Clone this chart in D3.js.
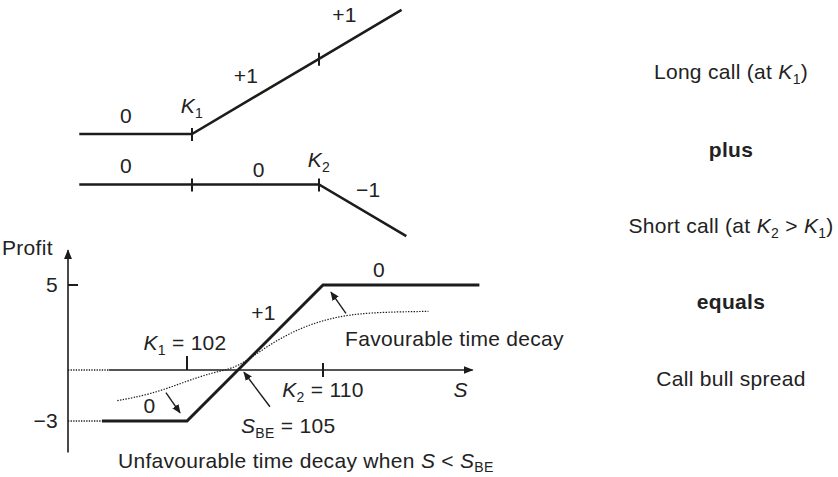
<!DOCTYPE html>
<html><head><meta charset="utf-8">
<script src="https://cdn.jsdelivr.net/npm/d3@7"></script>
<style>
body{margin:0;background:#fff}
svg{display:block}
text{font-family:"Liberation Sans",Arial,Helvetica,sans-serif;fill:#222;letter-spacing:0.3px}
</style>
</head><body>
<svg id="c" width="838" height="477"></svg>
<script>
// ---------- data ----------
const strikeNames = ["K1", "K2"];
const strikes = [102, 110];
const breakEven = 105;
// long call payoff (top diagram)
const longCallS = [94.9, 102, 110, 115.2];
const longCallPayoff = [0, 0, 8, 13.2];
const longSlopeLabels = ["0", "+1", "+1"];
// short call payoff (middle diagram)
const shortCallS = [94.9, 102, 110, 115.5];
const shortCallPayoff = [0, 0, 0, -5.5];
const shortSlopeLabels = ["0", "0", "\u22121"];
// call bull spread profit (bottom chart)
const spreadS = [97, 102, 110, 119.2];
const spreadProfit = [-3, -3, 5, 5];
const spreadSlopeLabels = ["0", "+1", "0"];
const profitTicks = [5, -3];
const profitTickLabels = ["5", "\u22123"];
// profit before expiry (dotted curve)
const decayS = [97.9, 99.8, 101.8, 103.5, 104.95, 106.7, 108.65, 110.6, 112.6, 116.2];
const decayProfit = [-1.8, -1.45, -0.73, -0.13, 0.1, 1.42, 2.49, 3.1, 3.39, 3.45];
// right-hand captions
const captions = ["Long call (at K1)", "plus", "Short call (at K2 > K1)", "equals", "Call bull spread"];

// ---------- setup ----------
const svg = d3.select("#c");
const ink = "#1c1c1c";
const FS = 21, SUBFS = 14;
const defs = svg.append("defs");
defs.append("marker").attr("id", "ah").attr("viewBox", "0 0 10 10")
  .attr("refX", 9).attr("refY", 5).attr("markerWidth", 9).attr("markerHeight", 9)
  .attr("markerUnits", "userSpaceOnUse").attr("orient", "auto")
  .append("path").attr("d", "M0,0.8 L10,5 L0,9.2 Z").attr("fill", ink);
defs.append("marker").attr("id", "ax").attr("viewBox", "0 0 10 10")
  .attr("refX", 9).attr("refY", 5).attr("markerWidth", 10).attr("markerHeight", 10)
  .attr("markerUnits", "userSpaceOnUse").attr("orient", "auto")
  .append("path").attr("d", "M0,1 L10,5 L0,9 Z").attr("fill", ink);

function rich(g, x, y, parts, opts = {}) {
  const t = g.append("text").attr("x", x).attr("y", y)
    .attr("font-size", opts.size || FS)
    .attr("text-anchor", opts.anchor || "start")
    .attr("font-weight", opts.bold ? "bold" : null);
  const sd = opts.subDy || 5;
  let shifted = false;
  parts.forEach(p => {
    const s = t.append("tspan").text(p.t);
    if (p.i) s.attr("font-style", "italic");
    if (p.sub) { s.attr("font-size", SUBFS).attr("dy", sd); shifted = true; }
    else if (shifted) { s.attr("dy", -sd); shifted = false; }
  });
  return t;
}
function parseLabel(str) {
  const parts = [];
  const re = /(K)([12])|(S)_BE|(S)(?=\s|$)/g;
  let last = 0, m;
  while ((m = re.exec(str))) {
    if (m.index > last) parts.push({t: str.slice(last, m.index)});
    if (m[1]) { parts.push({t: "K", i: true}); parts.push({t: m[2], sub: true}); }
    else if (m[3]) { parts.push({t: "S", i: true}); parts.push({t: "BE", sub: true}); }
    else { parts.push({t: "S", i: true}); }
    last = re.lastIndex;
  }
  if (last < str.length) parts.push({t: str.slice(last)});
  return parts;
}

// ---------- top diagrams ----------
const xTop = d3.scaleLinear().domain(strikes).range([192, 319]);
const yLong = d3.scaleLinear().domain([0, 1]).range([134, 124.6]);
const yShort = d3.scaleLinear().domain([0, 1]).range([184.5, 175.1]);
const gTop = svg.append("g");

function payoffLine(S, P, xs, ys) {
  return d3.line().x((d, i) => xs(S[i])).y((d, i) => ys(P[i]))(S);
}
gTop.append("path").attr("d", payoffLine(longCallS, longCallPayoff, xTop, yLong))
  .attr("fill", "none").attr("stroke", ink).attr("stroke-width", 2.6);
gTop.append("path").attr("d", payoffLine(shortCallS, shortCallPayoff, xTop, yShort))
  .attr("fill", "none").attr("stroke", ink).attr("stroke-width", 2.6);

strikes.forEach((k, i) => {
  const pl = longCallPayoff[longCallS.indexOf(k)];
  gTop.append("line").attr("x1", xTop(k)).attr("x2", xTop(k))
    .attr("y1", yLong(pl) - 6).attr("y2", yLong(pl) + 7)
    .attr("stroke", ink).attr("stroke-width", 2);
  const ps = shortCallPayoff[shortCallS.indexOf(k)];
  gTop.append("line").attr("x1", xTop(k)).attr("x2", xTop(k))
    .attr("y1", yShort(ps) - 6).attr("y2", yShort(ps) + 7)
    .attr("stroke", ink).attr("stroke-width", 2);
});
rich(gTop, xTop(strikes[0]), 113, parseLabel(strikeNames[0]), {anchor: "middle"});
rich(gTop, xTop(strikes[1]), 167, parseLabel(strikeNames[1]), {anchor: "middle"});
rich(gTop, xTop(97.84), 123, [{t: longSlopeLabels[0]}], {anchor: "middle"});
rich(gTop, xTop(105.4), 83, [{t: longSlopeLabels[1]}], {anchor: "middle"});
rich(gTop, xTop(111.6), 22, [{t: longSlopeLabels[2]}], {anchor: "middle"});
rich(gTop, xTop(97.84), 173, [{t: shortSlopeLabels[0]}], {anchor: "middle"});
rich(gTop, xTop(106.2), 177, [{t: shortSlopeLabels[1]}], {anchor: "middle"});
rich(gTop, xTop(113.1), 197, [{t: shortSlopeLabels[2]}], {anchor: "middle"});

// ---------- bottom chart ----------
const xB = d3.scaleLinear().domain(strikes).range([187, 323]);
const yB = d3.scaleLinear().domain([-3, 5]).range([421, 285]);
const bot = svg.append("g");
const sAxisMin = 95, sAxisSolid = 97.4, sAxisMax = 118.8;
const pAxisMin = -4.85, pAxisMax = 7.05;

bot.append("line").attr("x1", xB(sAxisMin)).attr("x2", xB(sAxisMin))
  .attr("y1", yB(pAxisMin)).attr("y2", yB(pAxisMax))
  .attr("stroke", ink).attr("stroke-width", 1.6).attr("marker-end", "url(#ax)");
bot.append("line").attr("x1", xB(sAxisMin)).attr("x2", xB(sAxisSolid))
  .attr("y1", yB(0)).attr("y2", yB(0))
  .attr("stroke", ink).attr("stroke-width", 1.3).attr("stroke-dasharray", "1.3,1.3");
bot.append("line").attr("x1", xB(sAxisSolid)).attr("x2", xB(sAxisMax))
  .attr("y1", yB(0)).attr("y2", yB(0))
  .attr("stroke", ink).attr("stroke-width", 1.6).attr("marker-end", "url(#ax)");
bot.append("line").attr("x1", xB(sAxisMin)).attr("x2", xB(sAxisMin) + 10)
  .attr("y1", yB(profitTicks[0])).attr("y2", yB(profitTicks[0]))
  .attr("stroke", ink).attr("stroke-width", 2);
bot.append("line").attr("x1", xB(sAxisMin)).attr("x2", xB(spreadS[0]))
  .attr("y1", yB(profitTicks[1])).attr("y2", yB(profitTicks[1]))
  .attr("stroke", ink).attr("stroke-width", 1.3).attr("stroke-dasharray", "1.3,1.3");
profitTicks.forEach((p, i) => {
  rich(bot, xB(sAxisMin) - 10, yB(p) + 7, [{t: profitTickLabels[i]}], {anchor: "end"});
});
rich(bot, 2, 255, [{t: "Profit"}]);

bot.append("line").attr("x1", xB(strikes[0])).attr("x2", xB(strikes[0]))
  .attr("y1", yB(0) - 14).attr("y2", yB(0)).attr("stroke", ink).attr("stroke-width", 2);
bot.append("line").attr("x1", xB(strikes[1])).attr("x2", xB(strikes[1]))
  .attr("y1", yB(0) - 7).attr("y2", yB(0) + 7).attr("stroke", ink).attr("stroke-width", 2);

bot.append("path")
  .attr("d", d3.line().curve(d3.curveBasis).x((d, i) => xB(decayS[i])).y((d, i) => yB(decayProfit[i]))(decayS))
  .attr("fill", "none").attr("stroke", ink).attr("stroke-width", 1.2).attr("stroke-dasharray", "1.4,1.4");

bot.append("path").attr("d", payoffLine(spreadS, spreadProfit, xB, yB))
  .attr("fill", "none").attr("stroke", ink).attr("stroke-width", 3);

const arrows = [
  [111.35, 3.33, 110.47, 4.58],
  [100.76, -1.33, 101.59, -2.52],
  [106.88, -2.16, 105.35, -0.13]
];
arrows.forEach(a => {
  bot.append("line").attr("x1", xB(a[0])).attr("y1", yB(a[1]))
    .attr("x2", xB(a[2])).attr("y2", yB(a[3]))
    .attr("stroke", ink).attr("stroke-width", 1.4).attr("marker-end", "url(#ah)");
});

rich(bot, xB(113.3), 277, [{t: spreadSlopeLabels[2]}], {anchor: "middle"});
rich(bot, xB(106.5), 320, [{t: spreadSlopeLabels[1]}], {anchor: "middle"});
rich(bot, xB(99.8), 413, [{t: spreadSlopeLabels[0]}], {anchor: "middle"});
rich(bot, xB(strikes[0]) - 2, 350, parseLabel(strikeNames[0] + " = " + strikes[0]), {anchor: "middle"});
rich(bot, xB(strikes[1]), 397, parseLabel(strikeNames[1] + " = " + strikes[1]), {anchor: "middle"});
rich(bot, xB(breakEven) + 3, 433, parseLabel("S_BE = " + breakEven));
rich(bot, xB(118.1), 397, [{t: "S", i: true}], {anchor: "middle"});
rich(bot, xB(111.3), 346, [{t: "Favourable time decay"}]);
rich(bot, 118, 468, parseLabel("Unfavourable time decay when S < S_BE"), {subDy: 4});

// ---------- right captions ----------
const capY = [79, 157, 233, 309, 386];
captions.forEach((c, i) => {
  rich(svg, 731, capY[i], parseLabel(c), {anchor: "middle", bold: c === "plus" || c === "equals"});
});
</script>
</body></html>
